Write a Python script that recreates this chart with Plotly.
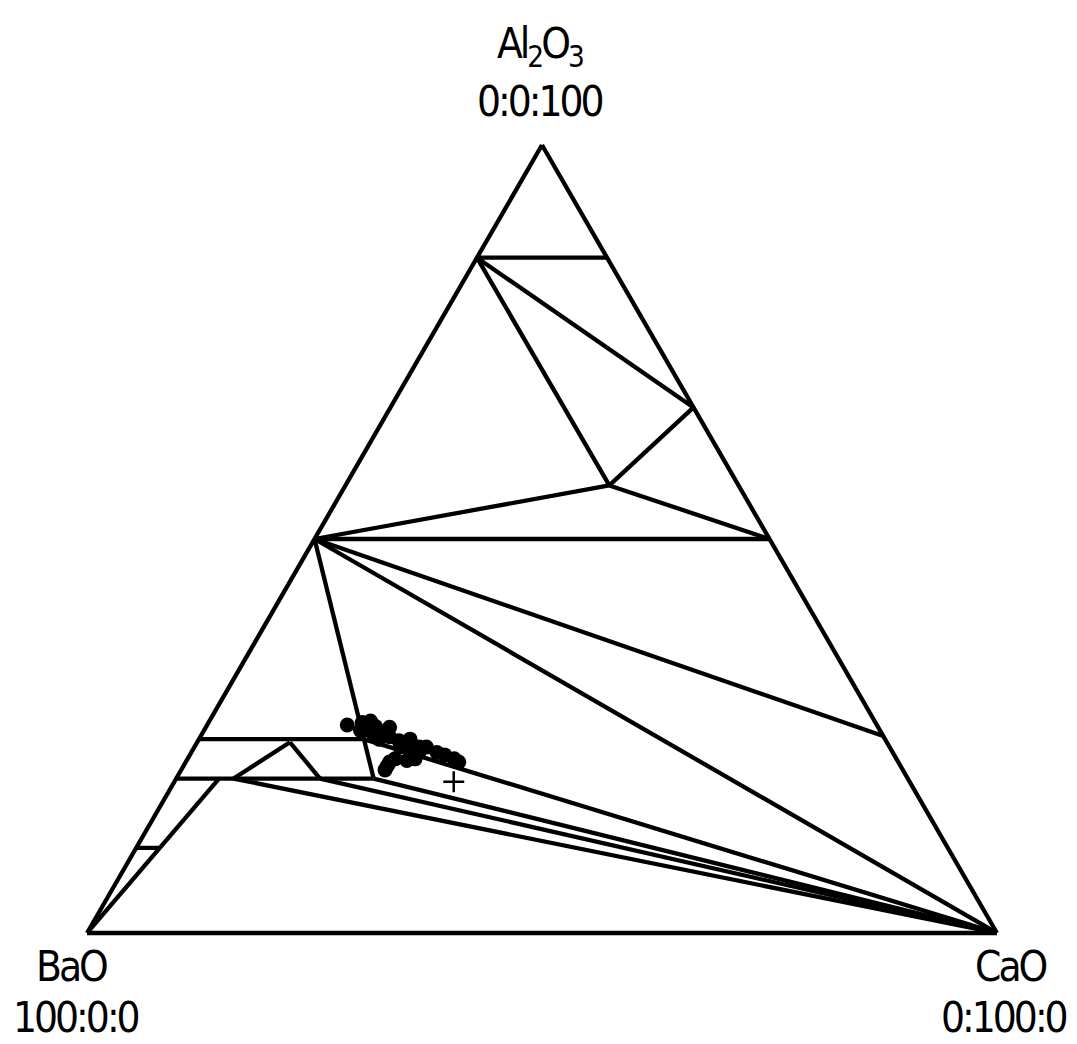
import plotly.graph_objects as go

# node compositions in mol %
node_names = ["BaO", "CaO", "Al2O3", "BA6", "CA6", "CA2", "CA", "C3A", "BA",
              "B3A", "B4A", "B8A", "P1", "P2", "P3", "D1", "D2",
              "T1", "T2", "T3"]
node_al2o3 = [0, 0, 100, 85.7, 85.7, 66.7, 50, 25, 50,
              24.6, 19.6, 10.8, 56.8, 24.6, 19.6, 19.6, 10.8,
              19.6, 24.2, 19.6]
node_bao = [100, 0, 0, 14.3, 0, 0, 0, 0, 50,
            75.4, 80.4, 89.2, 14.2, 57.3, 58.7, 75.7, 86.6,
            74.1, 65.6, 64.6]
node_cao = [0, 100, 0, 0, 14.3, 33.3, 50, 75, 0,
            0, 0, 0, 29.0, 18.1, 21.7, 4.7, 2.6,
            6.3, 10.2, 15.8]

# tie lines / boundaries between nodes
segments = [
    ("BA6", "CA6"), ("BA6", "CA2"), ("BA6", "P1"),
    ("P1", "CA2"), ("P1", "CA"), ("BA", "P1"),
    ("BA", "CA"), ("BA", "C3A"), ("BA", "CaO"), ("BA", "P3"),
    ("B3A", "P2"), ("B4A", "P3"),
    ("P2", "CaO"), ("P3", "CaO"), ("T3", "CaO"), ("T1", "CaO"),
    ("T1", "T2"), ("T2", "T3"),
    ("BaO", "D1"), ("B8A", "D2"),
]

# measured compositions (filled circles)
dot_al2o3 = [26.4, 26.7, 26.9, 25.7, 25.8, 26.1, 25.2, 24.4, 24.2, 23.6, 23.2,
             23.6, 22.9, 22.6, 22.1, 21.7, 22.1, 21.7, 20.7, 21.9, 22.1, 25.1,
             24.6, 25.4, 24.6, 23.6, 26.2, 24.9, 23.0, 21.2]
dot_bao = [58.2, 56.4, 55.4, 57.1, 56.3, 53.7, 54.7, 53.5, 52.5, 53.8, 52.7,
           50.9, 50.1, 49.4, 48.6, 48.3, 55.1, 55.9, 56.9, 53.9, 52.9, 55.9,
           55.6, 55.2, 52.2, 51.7, 55.2, 54.3, 52.0, 56.4]
dot_cao = [15.4, 16.9, 17.7, 17.2, 17.9, 20.2, 20.1, 22.1, 23.3, 22.6, 24.1,
           25.5, 27.0, 28.0, 29.3, 30.0, 22.8, 22.4, 22.4, 24.2, 25.0, 19.0,
           19.8, 19.4, 23.2, 24.7, 18.6, 20.8, 25.0, 22.4]

# nominal composition (+)
plus_al2o3 = [19.2]
plus_bao = [50.1]
plus_cao = [30.7]

idx = {n: i for i, n in enumerate(node_names)}

fig = go.Figure()

for p, q in segments:
    i, j = idx[p], idx[q]
    fig.add_trace(go.Scatterternary(
        a=[node_al2o3[i], node_al2o3[j]],
        b=[node_bao[i], node_bao[j]],
        c=[node_cao[i], node_cao[j]],
        mode="lines",
        line=dict(color="black", width=4.3),
        cliponaxis=False,
        hoverinfo="skip",
    ))

fig.add_trace(go.Scatterternary(
    a=dot_al2o3, b=dot_bao, c=dot_cao,
    mode="markers",
    marker=dict(color="black", size=15, line=dict(width=0)),
    cliponaxis=False,
))

fig.add_trace(go.Scatterternary(
    a=plus_al2o3, b=plus_bao, c=plus_cao,
    mode="markers",
    marker=dict(symbol="cross-thin", size=15, color="black",
                line=dict(color="black", width=2.5)),
    cliponaxis=False,
))

edge = dict(showline=True, linecolor="black", linewidth=4.3,
            showgrid=False, showticklabels=False, ticks="",
            title=dict(text=""))

font_family = "Liberation Sans Narrow, DejaVu Sans Condensed, Arial Narrow, sans-serif"
label_font = dict(family=font_family, size=42, color="black")


def label(text, x, y):
    return dict(text="<span style='letter-spacing:-3px'>" + text + "</span>",
                x=x, y=y, xref="paper", yref="paper",
                xanchor="center", yanchor="middle", showarrow=False,
                font=label_font)


fig.update_layout(
    width=1069,
    height=1036,
    margin=dict(l=79, r=80, t=137, b=111),
    paper_bgcolor="white",
    showlegend=False,
    ternary=dict(
        sum=100,
        bgcolor="white",
        aaxis=edge,
        baxis=edge,
        caxis=edge,
    ),
    annotations=[
        label("Al<sub>2</sub>O<sub>3</sub>", 0.498, 1.1256),
        label("0:0:100", 0.498, 1.0546),
        label("BaO", -0.0165, -0.0431),
        label("100:0:0", -0.0121, -0.1066),
        label("CaO", 1.0154, -0.0431),
        label("0:100:0", 1.0077, -0.1066),
    ],
)

fig.write_html("out.html")
